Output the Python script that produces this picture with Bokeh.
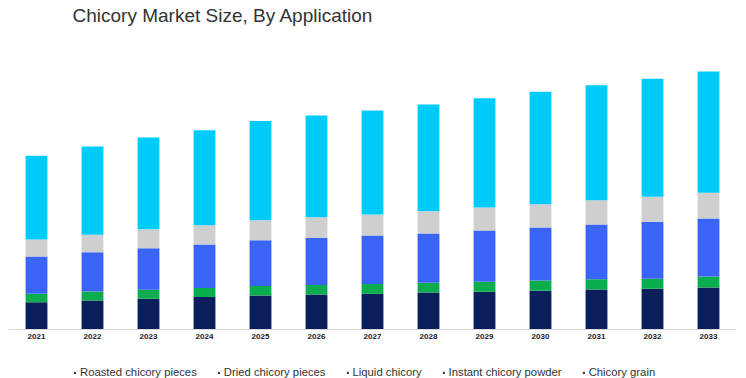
from bokeh.plotting import figure
from bokeh.models import ColumnDataSource, Range1d, Legend, LegendItem, Span
from bokeh.core.properties import value
from bokeh.embed import file_html
from bokeh.resources import INLINE

years = ["2021", "2022", "2023", "2024", "2025", "2026", "2027",
         "2028", "2029", "2030", "2031", "2032", "2033"]
series_names = ["Roasted chicory pieces", "Dried chicory pieces", "Liquid chicory",
                "Instant chicory powder", "Chicory grain"]
roasted = [27.3, 29.0, 30.7, 32.6, 34.0, 35.0, 35.6, 37.0, 37.7, 38.7, 40.0, 40.7, 42.0]
dried = [8.4, 9.0, 9.0, 9.0, 9.6, 9.6, 10.0, 9.7, 10.0, 10.3, 10.3, 10.0, 11.0]
liquid = [37.3, 39.3, 41.6, 43.4, 45.7, 47.0, 48.4, 49.3, 51.3, 53.0, 54.7, 57.0, 58.0]
instant = [17.0, 17.4, 19.0, 19.3, 20.0, 20.7, 21.0, 22.3, 23.0, 23.3, 24.3, 25.0, 25.7]
grain = [83.7, 88.3, 91.7, 95.0, 99.3, 101.7, 104.0, 106.7, 109.3, 112.4, 115.0, 118.0, 121.3]
colors = ["#0b1f5c", "#0aae4e", "#3a64f6", "#cfcfcf", "#00cbfd"]

keys = ["roasted", "dried", "liquid", "instant", "grain"]
source = ColumnDataSource(dict(years=years, roasted=roasted, dried=dried,
                               liquid=liquid, instant=instant, grain=grain,
                               zero=[0] * len(years)))

# frame spans from below the title to the bottom of the canvas;
# the value 0 (bar baseline) sits 49px above the canvas bottom
Y_START, Y_END = -49, 302

p = figure(x_range=years, y_range=Range1d(Y_START, Y_END), width=746, height=378,
           output_backend="svg", toolbar_location=None,
           min_border_left=8, min_border_right=10, min_border_bottom=0, min_border_top=0)

p.vbar_stack(keys, x="years", width=0.39, color=colors, line_color=None, source=source)

# baseline (x axis line)
p.add_layout(Span(location=0, dimension="width", line_color="#d9d9d9", line_width=1))

# category labels
p.text(x="years", y="zero", text="years", source=source, y_offset=4,
       text_align="center", text_baseline="top",
       text_font=value("Liberation Sans"), text_font_size="8px",
       text_font_style="bold", text_color="#222222")

p.title.text = "Chicory Market Size, By Application"
p.title.align = "left"
p.title.offset = 64
p.title.standoff = 4
p.title.text_font = "Liberation Sans"
p.title.text_font_size = "19px"
p.title.text_font_style = "normal"
p.title.text_color = "#333333"

p.xaxis.visible = False
p.yaxis.visible = False
p.grid.visible = False
p.outline_line_color = None

# legend bullets: a zero-height (invisible) bar supplies the dark square legend glyph
bullet_src = ColumnDataSource(dict(x=years[:1], top=[0]))
items = []
for name in series_names:
    r = p.vbar(x="x", top="top", width=0.01, fill_color="#444444", line_color=None,
               source=bullet_src)
    items.append(LegendItem(label=name, renderers=[r]))

legend = Legend(items=items, orientation="horizontal", location=(65, 0),
                border_line_alpha=0, background_fill_alpha=0,
                label_text_font="Liberation Sans", label_text_font_size="11.3px",
                label_text_color="#333333", glyph_width=3, glyph_height=3,
                label_height=12, label_standoff=4, spacing=20, padding=0, margin=0)
p.add_layout(legend)

open("out.html", "w").write(file_html(p, INLINE))
